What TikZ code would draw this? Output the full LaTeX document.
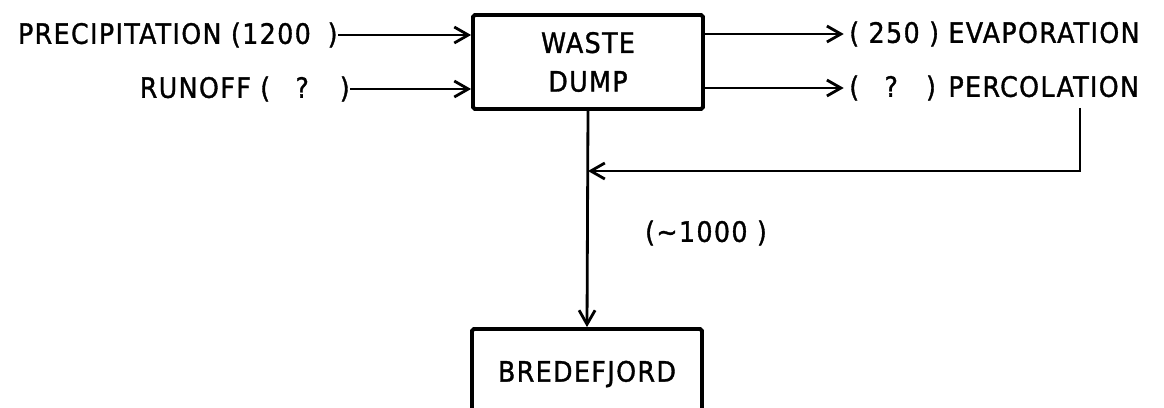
\documentclass[tikz,border=0pt]{standalone}
\usepackage{fontspec}
\setmainfont{DejaVu Sans Condensed}[LetterSpace=5,FakeBold=1.2]
\usepackage{tikz}
\usetikzlibrary{positioning,arrows.meta}

\begin{document}
\begin{tikzpicture}[x=0.02cm,y=-0.02cm,font=\fontsize{16}{22}\selectfont,
      box/.style={draw,line width=2.2pt,rounded corners=1pt,minimum width=4.6cm,align=center},
      lbl/.style={inner sep=0pt},
      arr/.style={-{Straight Barb[length=2.8mm,width=3.2mm]},line width=1.6pt}]
    \clip (0,0) rectangle (1164,407);
    % boxes
    \node[box,minimum height=1.88cm] (dump) at (588,62) {WASTE\\DUMP};
    \node[box,minimum height=1.8cm] (fjord) at (587,374) {BREDEFJORD};
    % inflows
    \node[lbl,anchor=east] (precip) at (338,35) {PRECIPITATION (1200\hspace{0.6em})};
    \node[lbl,anchor=east] (runoff) at (350,89) {RUNOFF (\hspace{0.9em}?\hspace{1.1em})};
    \draw[arr] (precip.east) -- (precip.east -| dump.west);
    \draw[arr] (runoff.east) -- (runoff.east -| dump.west);
    % outflows
    \node[lbl,anchor=west] (evap) at (849,34) {( 250 ) EVAPORATION};
    \node[lbl,anchor=west] (perc) at (849,88) {(\hspace{0.9em}?\hspace{1.0em}) PERCOLATION};
    \draw[arr] (evap.west -| dump.east) -- ([xshift=-3pt]evap.west);
    \draw[arr] (perc.west -| dump.east) -- ([xshift=-3pt]perc.west);
    % percolation back to the outlet
    \coordinate (bend) at (1080,171);
    \draw[arr] ([yshift=-4pt]perc.south -| bend) -- (bend) -- (bend -| dump.south);
    \draw[arr] (dump.south) -- (fjord.north);
    \node[lbl] (total) at (706,233) {(\textasciitilde1000 )};
\end{tikzpicture}
\end{document}
